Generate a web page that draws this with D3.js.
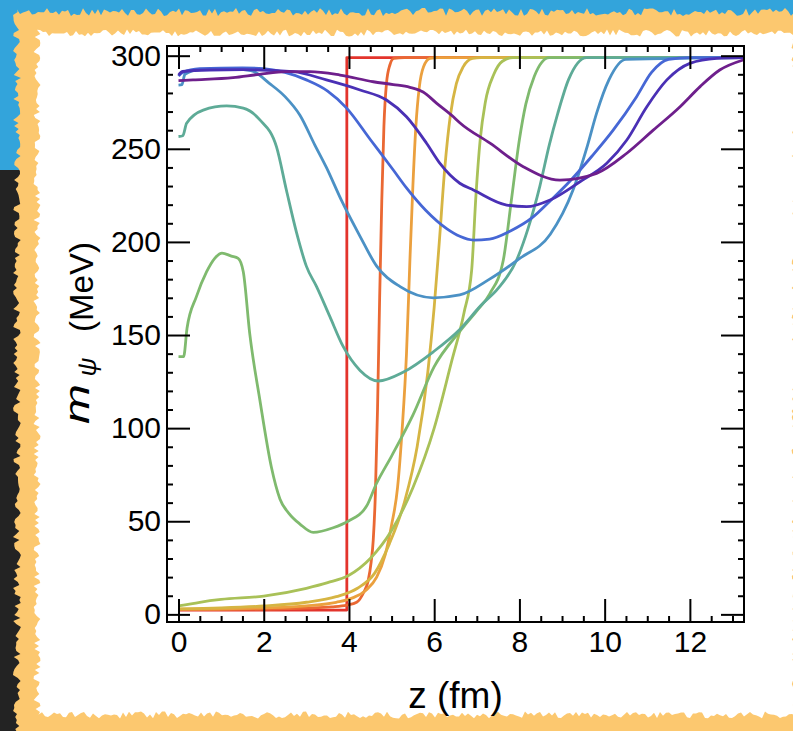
<!DOCTYPE html>
<html>
<head>
<meta charset="utf-8">
<script src="https://cdn.jsdelivr.net/npm/d3@7"></script>
<style>
  body { margin: 0; background: #fff; }
  svg { display: block; }
  text { font-family: "Liberation Sans", Arial, sans-serif; }
</style>
</head>
<body>
<div id="chart"></div>
<script>
// ---- data: m_psi (MeV) vs z (fm), one profile per time step ----
var xMajorTicks = [0, 2, 4, 6, 8, 10, 12];
var yMajorTicks = [0, 50, 100, 150, 200, 250, 300];

var seriesColors = ["#e3342c", "#ea6833", "#eba03e", "#d6b543", "#a9c158", "#7fba6e",
                    "#5eab97", "#4b91c5", "#4667d5", "#4a30b5", "#6e1f8c"];

var red = [[0,2.3],[3.95,2.3],[3.95,299],[13.27,299]];
var orangeRed = [[0,2.5],[1,2.6],[2,2.8],[3,3.3],[3.6,4],[3.95,5],[4.18,6.5],[4.35,12],[4.45,18],
  [4.52,28],[4.57,40],[4.62,65],[4.67,110],[4.72,170],[4.77,222],[4.82,262],[4.88,285],[4.96,295],
  [5.05,298.5],[5.3,299],[13.27,299]];
var orange = [[0,2.8],[1,3],[2,3.5],[3,4.6],[3.7,6.5],[4.1,9],[4.4,13],[4.65,20],[4.85,32],[5.0,48],
  [5.14,68],[5.25,100],[5.35,140],[5.43,190],[5.5,230],[5.57,262],[5.65,283],[5.75,294],[5.9,298.5],
  [6.1,299],[13.27,299]];
var yellow = [[0,3],[1,3.5],[2,4.5],[3,6.5],[3.7,9.5],[4.2,14],[4.6,22],[4.95,38],[5.31,61],[5.6,90],
  [5.85,130],[6.0,165],[6.12,200],[6.25,240],[6.38,268],[6.52,285],[6.68,294],[6.9,298.5],[7.1,299],
  [13.27,299]];
var yellowGreen = [[0,4.5],[0.5,6.5],[1,8],[2,9.8],[3,14],[3.5,17],[4,21],[4.5,30],[5,45],[5.5,68],
  [6,100],[6.4,135],[6.7,162],[6.88,185],[6.98,225],[7.08,255],[7.2,275],[7.4,290],[7.6,297],
  [7.85,299],[13.27,299]];
var green = [[0,138.4],[0.12,138.4],[0.2,153.6],[0.42,170.6],[0.66,184],[0.85,191.2],[1.02,194],
  [1.24,192.4],[1.4,191.2],[1.52,184],[1.67,151],[1.91,115],[2.18,79],[2.38,62],[2.6,54],[2.85,48.5],
  [3.16,44],[3.63,46.5],[3.98,50],[4.41,58],[4.64,70],[5.0,85],[5.5,107],[6.0,133],[6.6,152],
  [7.0,163],[7.3,172],[7.62,190],[7.82,224],[8.0,255],[8.15,274],[8.35,289],[8.7,299],[13.27,299]];
var tealGreen = [[0,256.6],[0.1,257],[0.19,263.7],[0.58,270.8],[1.13,273],[1.52,271.8],[1.91,265.5],
  [2.3,251],[2.53,228],[2.77,205],[3.0,187],[3.24,176],[3.55,160],[3.86,144],[4.26,131],[4.69,125.3],
  [5.27,130],[5.98,141],[6.6,153],[7.1,166],[7.5,175],[7.93,190],[8.2,207],[8.48,230],[8.7,252],
  [8.9,269],[9.15,287],[9.58,299],[13.27,299]];
var blueTeal = [[0,284.2],[0.08,284.5],[0.15,290],[0.5,292.5],[1.2,293],[1.7,292],[2.14,285],[2.5,278],
  [2.85,268],[3.2,252],[3.47,240],[3.83,222],[4.26,203],[4.65,187],[5.2,176],[5.98,170],
  [6.6,171.5],[7.3,180],[8.0,191],[8.72,204],[9.26,228],[9.6,252],[9.81,269],[10.1,287],[10.5,298],
  [13.27,299]];
var blue = [[0,289],[0.1,291],[0.5,293],[1.5,293.5],[2.0,293],[2.5,291],[3.0,287],[3.5,281],[3.94,272],
  [4.5,255],[5.04,238.6],[5.35,229],[5.8,217],[6.3,207],[6.6,203],[6.92,201],[7.3,201.5],[7.8,206],
  [8.3,213],[8.72,222],[9.2,233],[9.7,246],[10.2,260],[10.75,278],[11.1,291],[11.5,298],[12,299],
  [13.27,299]];
var indigo = [[0,289.6],[0.1,291.5],[0.73,292.3],[1.5,292.5],[2.69,291.4],[3.47,287],[4.26,281.6],
  [4.88,276.2],[5.35,267.2],[5.82,253],[6.14,242],[6.6,231.5],[6.92,227.9],[7.7,219.8],[8.17,218.9],
  [8.72,222.5],[9.42,232.3],[10.05,242.2],[10.52,254.7],[10.99,272.6],[11.46,287],[12.0,295.9],
  [12.63,298.6],[13.27,299]];
var purple = [[0,286.6],[0.34,287],[1.28,288.2],[1.9,290],[2.53,291.4],[3.08,291.4],[3.79,289.6],
  [4.57,286],[5.04,284.5],[5.43,283],[5.74,280.5],[6.06,274.4],[6.45,267.2],[6.6,264],[7.31,253],
  [8.09,240.4],[8.95,233.2],[9.81,236.8],[10.52,247.6],[11.14,260],[11.77,272.6],[12.24,283.4],
  [12.7,292.3],[13.25,297.7]];

var series = [red, orangeRed, orange, yellow, yellowGreen, green, tealGreen, blueTeal, blue, indigo, purple];

// ---- page ----
var W = 793, H = 731;
var svg = d3.select("#chart").append("svg")
    .attr("width", W)
    .attr("height", H);

// rough torn-paper edges (decoration only)
function noise(i, s) {
  var v = Math.sin(i * 12.9898 + s * 78.233) * 43758.5453;
  return v - Math.floor(v);
}
function roughRect(x0, y0, x1, y1, amp, seed) {
  var pts = [], step = 3, i = 0, px, py;
  for (px = x0; px <= x1; px += step) pts.push([px, y0 + (noise(i++, seed) - 0.5) * amp]);
  for (py = y0; py <= y1; py += step) pts.push([x1 + (noise(i++, seed) - 0.5) * amp, py]);
  for (px = x1; px >= x0; px -= step) pts.push([px, y1 + (noise(i++, seed) - 0.5) * amp]);
  for (py = y1; py >= y0; py -= step) pts.push([x0 + (noise(i++, seed) - 0.5) * amp, py]);
  return "M" + pts.map(function(p) { return p[0].toFixed(1) + "," + p[1].toFixed(1); }).join("L") + "Z";
}

var bg = svg.append("g");
bg.append("rect").attr("width", W).attr("height", H).attr("fill", "#232323");
bg.append("rect").attr("width", W).attr("height", 170).attr("fill", "#33a4db");
bg.append("path").attr("d", roughRect(17, 12, 810, 750, 8, 1)).attr("fill", "#fcc86f");
bg.append("path").attr("d", roughRect(37, 33, 795, 715, 7, 2)).attr("fill", "#ffffff");

// ---- chart ----
var mLeft = 167, mRight = 744, mTop = 46, mBottom = 622;

var x = d3.scaleLinear().domain([-0.27, 13.27]).range([mLeft, mRight]);
var y = d3.scaleLinear().domain([-4.1, 305.2]).range([mBottom, mTop]);

var xMinorTicks = d3.range(0.5, 13.01, 0.5).filter(function(d) { return d % 2 !== 0; });
var yMinorTicks = d3.range(10, 301, 10).filter(function(d) { return d % 50 !== 0; });

var g = svg.append("g");

// curves
var line = d3.line()
    .x(function(d) { return x(d[0]); })
    .y(function(d) { return y(d[1]); })
    .curve(d3.curveMonotoneX);
var stepLine = d3.line()
    .x(function(d) { return x(d[0]); })
    .y(function(d) { return y(d[1]); });

g.selectAll("path.curve")
    .data(series)
  .enter().append("path")
    .attr("class", "curve")
    .attr("d", function(d, i) { return i === 0 ? stepLine(d) : line(d); })
    .attr("fill", "none")
    .attr("stroke", function(d, i) { return seriesColors[i]; })
    .attr("stroke-width", 2.8)
    .attr("stroke-linejoin", "round");

// frame ticks (inward, on all four sides)
function styleAxis(sel) {
  sel.select(".domain").remove();
  sel.selectAll(".tick line").attr("stroke", "#000").attr("stroke-width", 2);
  sel.selectAll(".tick text").attr("fill", "#000")
      .style("font-family", "'Liberation Sans', Arial, sans-serif")
      .style("font-size", "30px");
}

g.append("g").attr("transform", "translate(0," + mBottom + ")")
    .call(d3.axisBottom(x).tickValues(xMajorTicks).tickSize(-23).tickPadding(9).tickFormat(d3.format("d")))
    .call(styleAxis);
g.append("g").attr("transform", "translate(0," + mBottom + ")")
    .call(d3.axisBottom(x).tickValues(xMinorTicks).tickSize(-6).tickFormat(""))
    .call(styleAxis);
g.append("g").attr("transform", "translate(0," + mTop + ")")
    .call(d3.axisTop(x).tickValues(xMajorTicks).tickSize(-23).tickFormat(""))
    .call(styleAxis);
g.append("g").attr("transform", "translate(0," + mTop + ")")
    .call(d3.axisTop(x).tickValues(xMinorTicks).tickSize(-6).tickFormat(""))
    .call(styleAxis);

g.append("g").attr("transform", "translate(" + mLeft + ",0)")
    .call(d3.axisLeft(y).tickValues(yMajorTicks).tickSize(-23).tickPadding(6).tickFormat(d3.format("d")))
    .call(styleAxis);
g.append("g").attr("transform", "translate(" + mLeft + ",0)")
    .call(d3.axisLeft(y).tickValues(yMinorTicks).tickSize(-6).tickFormat(""))
    .call(styleAxis);
g.append("g").attr("transform", "translate(" + mRight + ",0)")
    .call(d3.axisRight(y).tickValues(yMajorTicks).tickSize(-23).tickFormat(""))
    .call(styleAxis);
g.append("g").attr("transform", "translate(" + mRight + ",0)")
    .call(d3.axisRight(y).tickValues(yMinorTicks).tickSize(-6).tickFormat(""))
    .call(styleAxis);

g.append("rect")
    .attr("x", mLeft).attr("y", mTop)
    .attr("width", mRight - mLeft).attr("height", mBottom - mTop)
    .attr("fill", "none").attr("stroke", "#000").attr("stroke-width", 2);

// axis titles
g.append("text")
    .attr("x", (mLeft + mRight) / 2)
    .attr("y", 708)
    .attr("text-anchor", "middle")
    .style("font-size", "37px")
    .text("z (fm)");

// y title: m_psi (MeV), rotated; pieces placed along the axis
g.append("text")
    .attr("transform", "translate(89,404) rotate(-90)")
    .attr("text-anchor", "middle")
    .attr("textLength", 40)
    .attr("lengthAdjust", "spacingAndGlyphs")
    .style("font-size", "35px")
    .style("font-style", "italic")
    .text("m");
g.append("text")
    .attr("transform", "translate(96,367) rotate(-90)")
    .attr("text-anchor", "middle")
    .style("font-size", "26px")
    .style("font-style", "italic")
    .text("ψ");
g.append("text")
    .attr("transform", "translate(93,287) rotate(-90)")
    .attr("text-anchor", "middle")
    .style("font-size", "33px")
    .text("(MeV)");
</script>
</body>
</html>
